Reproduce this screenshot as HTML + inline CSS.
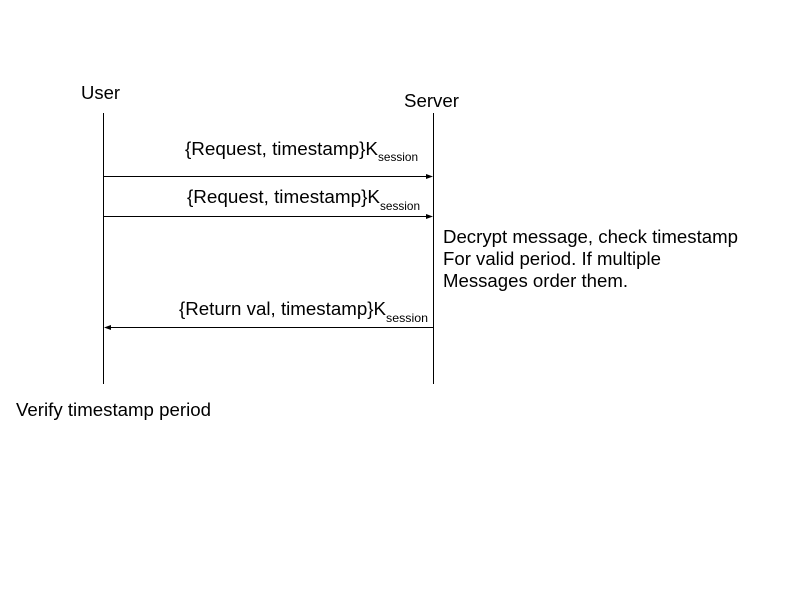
<!DOCTYPE html>
<html><head><style>body{margin:0;background:#fff}</style></head><body>
<svg width="800" height="600" xmlns="http://www.w3.org/2000/svg" font-family="Liberation Sans, sans-serif" fill="#000">
<rect width="800" height="600" fill="#fff"/>
<line x1="103.5" y1="113" x2="103.5" y2="384" stroke="#000" stroke-width="1"/>
<line x1="433.5" y1="113" x2="433.5" y2="384" stroke="#000" stroke-width="1"/>
<line x1="103" y1="176.5" x2="427" y2="176.5" stroke="#000"/>
<polygon points="433,176.5 426,174 426,179"/>
<line x1="103" y1="216.5" x2="427" y2="216.5" stroke="#000"/>
<polygon points="433,216.5 426,214 426,219"/>
<line x1="110" y1="327.5" x2="433" y2="327.5" stroke="#000"/>
<polygon points="104,327.5 111,325 111,330"/>
<text x="81" y="99" font-size="18" textLength="39" lengthAdjust="spacingAndGlyphs">User</text>
<text x="404" y="107" font-size="18" textLength="55" lengthAdjust="spacingAndGlyphs">Server</text>
<text x="185" y="155" font-size="18" textLength="193" lengthAdjust="spacingAndGlyphs">{Request, timestamp}K</text>
<text x="378" y="161" font-size="12" textLength="40" lengthAdjust="spacingAndGlyphs">session</text>
<text x="187" y="203" font-size="18" textLength="193" lengthAdjust="spacingAndGlyphs">{Request, timestamp}K</text>
<text x="380" y="210" font-size="12" textLength="40" lengthAdjust="spacingAndGlyphs">session</text>
<text x="179" y="315" font-size="18" textLength="207" lengthAdjust="spacingAndGlyphs">{Return val, timestamp}K</text>
<text x="386" y="322" font-size="12" textLength="42" lengthAdjust="spacingAndGlyphs">session</text>
<text x="443" y="243" font-size="18" textLength="295" lengthAdjust="spacingAndGlyphs">Decrypt message, check timestamp</text>
<text x="443" y="265" font-size="18" textLength="218" lengthAdjust="spacingAndGlyphs">For valid period. If multiple</text>
<text x="443" y="287" font-size="18" textLength="185" lengthAdjust="spacingAndGlyphs">Messages order them.</text>
<text x="16" y="416" font-size="18" textLength="195" lengthAdjust="spacingAndGlyphs">Verify timestamp period</text>
</svg>
</body></html>
